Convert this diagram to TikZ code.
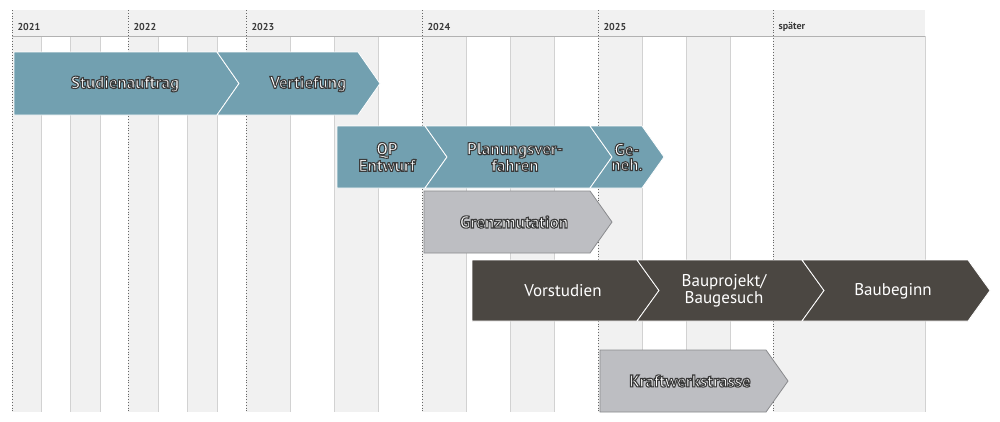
\documentclass[tikz,border=0pt]{standalone}
\usepackage{fontspec}
\setmainfont{PT Sans}
\definecolor{blu}{HTML}{72A0B0}
\definecolor{gry}{HTML}{BDBEC2}
\definecolor{gryb}{HTML}{8A8B8E}
\definecolor{drk}{HTML}{4B4742}
\definecolor{colshd}{HTML}{F1F1F1}
\definecolor{txtd}{HTML}{3A3A3A}
\newcommand{\chev}[8]{% x0 x1 ytop ybot notch(0/1) fill draw name
  \pgfmathsetmacro{\ym}{(#3+#4)/2}
  \ifnum#5=1
    \path[fill=#6,draw=#7,line width=0.8pt] (#1,#3) -- (#2,#3) -- (#2+22,\ym) -- (#2,#4) -- (#1,#4) -- (#1+22,\ym) -- cycle;
  \else
    \path[fill=#6,draw=#7,line width=0.8pt] (#1,#3) -- (#2,#3) -- (#2+22,\ym) -- (#2,#4) -- (#1,#4) -- cycle;
  \fi
  \coordinate (#8) at ({(#1+#2+22*#5)/2+5},\ym);
}
\newcommand{\oc}[1]{\special{pdf:code 2 Tr 1.1 w 0.23 0.23 0.23 RG}#1\special{pdf:code 0 Tr}}
\tikzset{lblo/.style={font=\bfseries\fontsize{17}{15}\selectfont,align=center,text=white},
 lbld/.style={font=\fontsize{17}{15}\selectfont,align=center,text=white},
 yr/.style={font=\bfseries\fontsize{10}{10}\selectfont,text=txtd,anchor=west}}
\begin{document}
\begin{tikzpicture}[x=1pt,y=-1pt]
\useasboundingbox (0,0) rectangle (1000,421);
\fill[white] (0,0) rectangle (1000,421);
\foreach \a/\b in {12/41,70/100,128/158,187/217,246/290,334/378,422/466,510/554,598/642,686/730,773/925}
  \fill[colshd] (\a,36) rectangle (\b,412);
\fill[colshd] (12,10) rectangle (925,36);
\foreach \x in {41,70,100,158,187,217,290,334,378,466,510,554,642,686,730,925}
  \draw[gray!35,line width=0.6pt] (\x,36) -- (\x,412);
\foreach \x in {12,128,246,422,598,773}
  \draw[gray!80!black,dotted,line width=0.8pt] (\x,10) -- (\x,412);
\draw[gray!60,line width=0.8pt] (12,36) -- (925,36);
\node[yr] (y1) at (14,27) {2021};
\node[yr] (y2) at (130,27) {2022};
\node[yr] (y3) at (248,27) {2023};
\node[yr] (y4) at (424,27) {2024};
\node[yr] (y5) at (600,27) {2025};
\node[yr] (y6) at (775,27) {später};
\chev{14}{217}{52}{115}{0}{blu}{white}{c1}
\chev{217}{358}{52}{115}{1}{blu}{white}{c2}
\node[lblo] (n1) at (125,84) {\oc{Studienauftrag}};
\node[lblo] (n2) at (308,84) {\oc{Vertiefung}};
\chev{337}{425}{126}{188}{0}{blu}{white}{c3}
\chev{425}{590}{126}{188}{1}{blu}{white}{c4}
\chev{590}{642}{126}{188}{1}{blu}{white}{c5}
\node[lblo] (n3) at (387,157) {\oc{QP}\\\oc{Entwurf}};
\node[lblo] (n4) at (515,157) {\oc{Planungsver-}\\\oc{fahren}};
\node[lblo] (n5) at (627,157) {\oc{Ge-}\\\oc{neh.}};
\chev{424}{590}{191}{253}{0}{gry}{gryb}{c6}
\node[lblo] (n6) at (514,222) {\oc{Grenzmutation}};
\chev{472}{637}{260}{321}{0}{drk}{white}{c7}
\chev{637}{802}{260}{321}{1}{drk}{white}{c8}
\chev{802}{968}{260}{321}{1}{drk}{white}{c9}
\node[lbld] (n7) at (563,291) {Vorstudien};
\node[lbld] (n8) at (724,291) {Bauprojekt/\\Baugesuch};
\node[lbld] (n9) at (893,291) {Baubeginn};
\chev{600}{766}{350}{412}{0}{gry}{gryb}{c10}
\node[lblo] (n10) at (690,381) {\oc{Kraftwerkstrasse}};
\end{tikzpicture}
\end{document}
